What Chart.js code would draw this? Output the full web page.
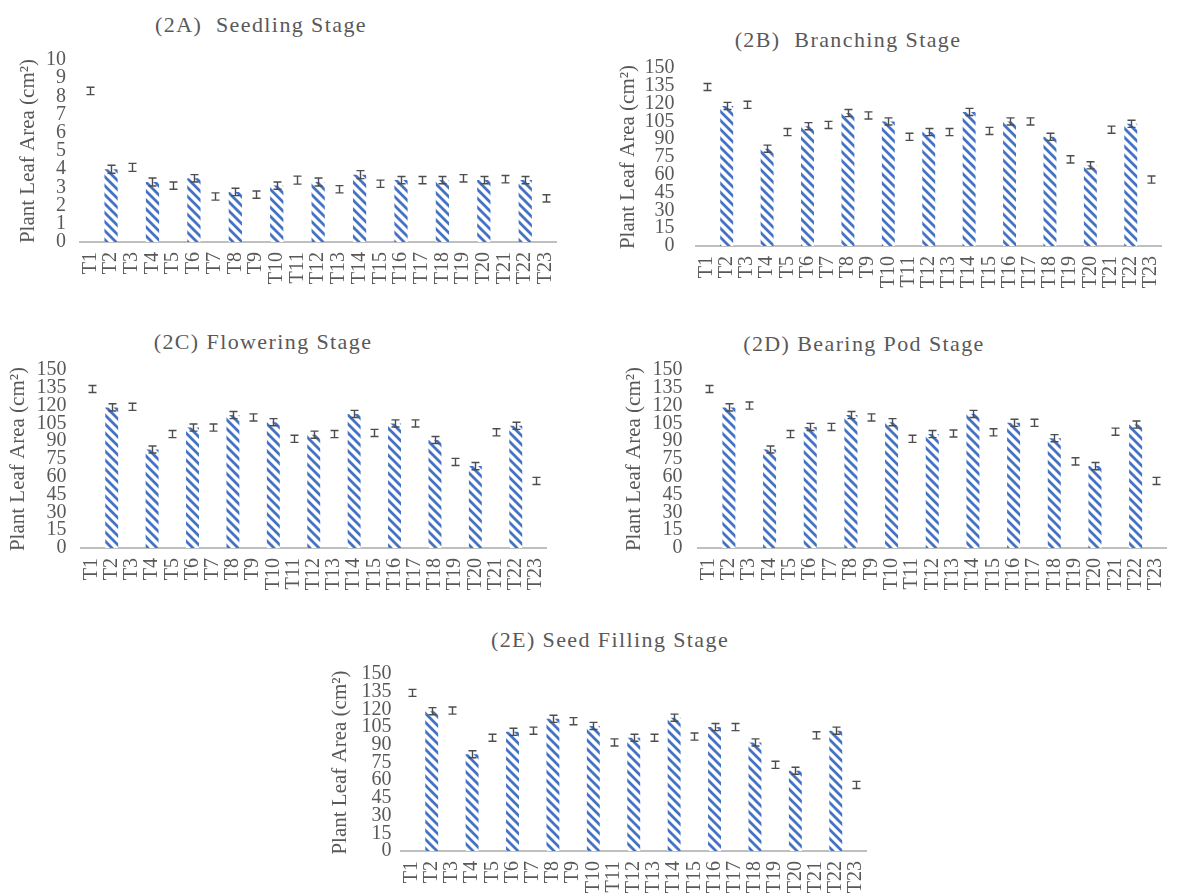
<!DOCTYPE html>
<html><head><meta charset="utf-8">
<script src="https://cdn.jsdelivr.net/npm/chart.js@4.4.1/dist/chart.umd.min.js"></script>
<style>
html,body{margin:0;padding:0;}
body{width:1184px;height:893px;overflow:hidden;background:#fff;position:relative;font-family:"Liberation Serif","Times New Roman",serif;}
.ttl{position:absolute;color:#595959;font-size:22px;letter-spacing:1.4px;white-space:pre;transform:translate(-50%,-50%);line-height:1;}
canvas{position:absolute;}
</style></head><body>
<div class="ttl" style="left:261px;top:25px">(2A)  Seedling Stage</div>
<div class="ttl" style="left:848px;top:40px">(2B)  Branching Stage</div>
<div class="ttl" style="left:263px;top:342px">(2C) Flowering Stage</div>
<div class="ttl" style="left:864px;top:344px">(2D) Bearing Pod Stage</div>
<div class="ttl" style="left:610px;top:640px">(2E) Seed Filling Stage</div>
<canvas id="cA"></canvas><canvas id="cB"></canvas><canvas id="cC"></canvas><canvas id="cD"></canvas><canvas id="cE"></canvas>
<script>
// ---- data ----
const treatments = ['T1','T2','T3','T4','T5','T6','T7','T8','T9','T10','T11','T12','T13','T14','T15','T16','T17','T18','T19','T20','T21','T22','T23'];
const seedlingTicks = [0,1,2,3,4,5,6,7,8,9,10];
const stageTicks = [0,15,30,45,60,75,90,105,120,135,150];
const seedlingArea = [8.3,4.0,4.1,3.3,3.1,3.5,2.5,2.75,2.6,3.1,3.4,3.3,2.9,3.7,3.2,3.4,3.4,3.4,3.5,3.4,3.45,3.4,2.4];
const seedlingErr  = [0.2,0.22,0.22,0.22,0.2,0.2,0.2,0.2,0.2,0.2,0.22,0.22,0.2,0.22,0.2,0.2,0.2,0.2,0.2,0.2,0.2,0.2,0.2];
const branchingArea = [134,118,119,82,96,101,102,112,110,105,92,96,96,113,97,105,105,92,73,68,98,103,56];
const branchingErr  = [3,3,3,3,3,3,3,3,3,3,3,3,3,3,3,3,3,3,3,3,3,3,3];
const floweringArea = [134,118.5,119,83,96,101.5,101.5,112,110,106,92,95.5,96,113,97,105,105,91,72.5,69,97.5,103,56.5];
const floweringErr  = [3,3,3,3,3,3,3,3,3,3,3,3,3,3,3,3,3,3,3,3,3,3,3];
const podArea = [134,118.5,120,83,96,102,102,112,110,106,92,96,96.5,113,97.5,105.5,105.5,92.5,73,69,98,104,56.5];
const podErr  = [3,3,3,3,3,3,3,3,3,3,3,3,3,3,3,3,3,3,3,3,3,3,3];
const fillingArea = [134,118.5,119,82,96,101,102,112,110,106,92,96,96,113,97,105,105,92,73,68,98,102,56];
const fillingErr  = [3,3,3,3,3,3,3,3,3,3,3,3,3,3,3,3,3,3,3,3,3,3,3];

const GRAY = '#595959';
const BLUE = '#4472C4';
const FONT = "'Liberation Serif','Times New Roman',serif";

function hatch(){
  const s = 9, c = document.createElement('canvas');
  c.width = s; c.height = s;
  const g = c.getContext('2d');
  g.fillStyle = '#fff'; g.fillRect(0,0,s,s);
  g.strokeStyle = BLUE; g.lineWidth = 2.8; g.lineCap='square';
  g.beginPath();
  g.moveTo(-2,-2); g.lineTo(s+2,s+2);
  g.moveTo(-2,s-2); g.lineTo(2,s+2);
  g.moveTo(s-2,-2); g.lineTo(s+2,2);
  g.stroke();
  return g.createPattern(c,'repeat');
}

const errPlugin = {
  id:'errbars',
  afterDatasetsDraw(chart, args, opts){
    const {ctx} = chart; const x = chart.scales.x, y = chart.scales.y;
    const vals = chart.data.datasets[0].data;
    ctx.save();
    ctx.strokeStyle = '#4d4d4d'; ctx.lineWidth = 1.4;
    vals.forEach((v,i)=>{
      const e = opts.errors[i];
      const px = Math.round(x.getPixelForValue(i)) + 0.5;
      const t = y.getPixelForValue(v+e), b = y.getPixelForValue(v-e);
      ctx.beginPath();
      ctx.moveTo(px,t); ctx.lineTo(px,b);
      ctx.moveTo(px-4,t); ctx.lineTo(px+4,t);
      ctx.moveTo(px-4,b); ctx.lineTo(px+4,b);
      ctx.stroke();
    });
    ctx.restore();
  }
};

function panel(id, values, errors, ticks, geo){
  const c = document.getElementById(id);
  const padTop = geo.tp + 16, padRight = 2, xH = 52;
  const left = geo.titleX - 16;
  const yW = geo.L - left;
  const top = geo.T - padTop;
  const w = Math.ceil(geo.R + padRight - left), h = Math.round(geo.B + xH - top);
  c.style.left = left+'px'; c.style.top = top+'px';
  c.width = w; c.height = h; c.style.width = w+'px'; c.style.height = h+'px';
  const pat = hatch();
  const colors = values.map((v,i)=> i%2===1 ? pat : 'rgba(0,0,0,0)');
  new Chart(c, {
    type:'bar',
    data:{labels:treatments, datasets:[{data:values, backgroundColor:colors, borderWidth:0, barPercentage:0.64, categoryPercentage:1.0}]},
    options:{
      responsive:false, animation:false, devicePixelRatio:1,
      layout:{padding:{top:padTop, right:padRight, left:0, bottom:0}},
      plugins:{legend:{display:false}, tooltip:{enabled:false}, errbars:{errors:errors}},
      scales:{
        x:{
          grid:{display:false, drawTicks:false},
          border:{display:true, color:'#BFBFBF', width:2},
          ticks:{color:GRAY, font:{family:FONT, size:20}, maxRotation:90, minRotation:90, padding:10, autoSkip:false},
          afterFit(s){ s.height = xH; }
        },
        y:{
          min:ticks[0], max:ticks[ticks.length-1],
          grid:{display:false, drawTicks:false},
          border:{display:false},
          afterBuildTicks(s){ s.ticks = ticks.map(v=>({value:v})); },
          ticks:{color:GRAY, font:{family:FONT, size:20}, padding:geo.tp, autoSkip:false},
          title:{display:true, text:'Plant Leaf Area (cm²)', color:GRAY, font:{family:FONT, size:21}, padding:{top:4,bottom:4}},
          afterFit(s){ s.width = yW; }
        }
      }
    },
    plugins:[errPlugin]
  });
}

panel('cA', seedlingArea, seedlingErr, seedlingTicks, {L:80, R:578, T:59.7, B:241.7, titleX:28, tp:14});
panel('cB', branchingArea, branchingErr, stageTicks, {L:696.4, R:1182.6, T:68, B:246, titleX:628, tp:22});
panel('cC', floweringArea, floweringErr, stageTicks, {L:81.4, R:567.6, T:370, B:548, titleX:18, tp:15});
panel('cD', podArea, podErr, stageTicks, {L:698.4, R:1187.6, T:370, B:548, titleX:634, tp:16});
panel('cE', fillingArea, fillingErr, stageTicks, {L:401.4, R:887.6, T:674, B:851, titleX:340, tp:10});
</script>
</body></html>
